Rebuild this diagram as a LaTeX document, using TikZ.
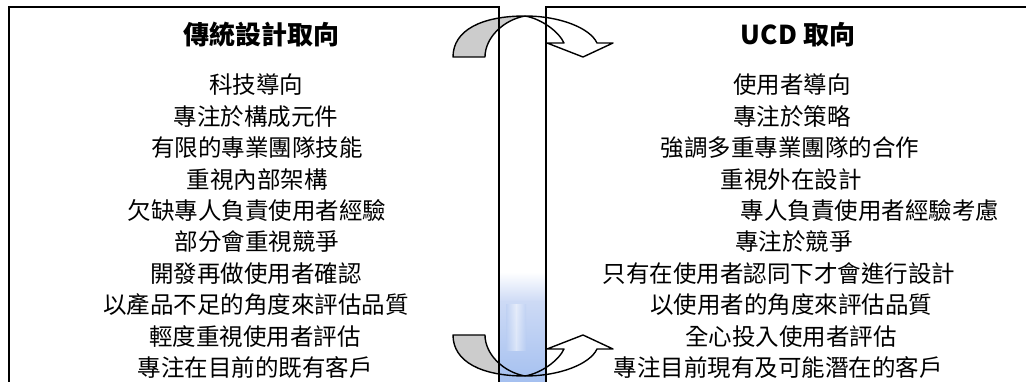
\documentclass[tikz,border=0pt]{standalone}
\usepackage{fontspec}
\newfontfamily\tc{Noto Sans CJK TC}
\begin{document}
\begin{tikzpicture}[x=1pt,y=-1pt,
  txt/.style={font=\tc\fontsize{23.5}{28}\selectfont, inner sep=0pt},
  ttl/.style={font=\tc\bfseries\fontsize{26}{30}\selectfont, inner sep=0pt},
  boxline/.style={line width=2pt, draw=black},
  arrline/.style={line width=1.4pt, draw=black, line join=round},
  grayfill/.style={fill={rgb,255:red,204;green,204;blue,204}}]
\useasboundingbox (0,0) rectangle (1026,382);
\clip (0,0) rectangle (1026,382);
% arrow shapes (top), defined as macros for reuse
\def\graypart{(453,57) .. controls (453,30) and (482,16) .. (525,16) .. controls (503,20) and (485,38) .. (485,57) -- cycle}
\def\whitepart{(525,16) .. controls (560,16) and (590,28) .. (597,43) -- (613,43) -- (583,57) -- (547,43) -- (564,43) .. controls (559,32) and (542,19) .. (525,16) -- cycle}
% fills
\fill[grayfill] \graypart;
\fill[white] \whitepart;
\begin{scope}[yshift=-392pt, yscale=-1]
\fill[grayfill] \graypart;
\fill[white] \whitepart;
\end{scope}
% middle strip picture
\shade[top color=white, bottom color={rgb,255:red,205;green,218;blue,245}] (500,272) rectangle (545,302);
\shade[top color={rgb,255:red,205;green,218;blue,245}, bottom color={rgb,255:red,165;green,192;blue,240}] (500,302) rectangle (545,382);
\shade[left color={rgb,255:red,185;green,205;blue,242}, right color=white, opacity=0.5] (506,305) rectangle (516,350);
\shade[left color=white, right color={rgb,255:red,185;green,205;blue,242}, opacity=0.5] (516,305) rectangle (526,350);
% outlines
\draw[arrline] \graypart;
\draw[arrline] \whitepart;
\begin{scope}[yshift=-392pt, yscale=-1]
\draw[arrline] \graypart;
\draw[arrline] \whitepart;
\end{scope}
% boxes
\draw[boxline] (9,400) -- (9,7) -- (499,7) -- (499,400);
\draw[boxline] (546,400) -- (546,7) -- (1040,7);
% left column
\node[ttl] (lt) at (261,35) {傳統設計取向};
\node[txt] (l1) at (256,85) {科技導向};
\node[txt] (l2) at (256,116.4) {專注於構成元件};
\node[txt] (l3) at (257,147.8) {有限的專業團隊技能};
\node[txt] (l4) at (257,179.2) {重視內部架構};
\node[txt] (l5) at (257,210.6) {欠缺專人負責使用者經驗};
\node[txt] (l6) at (257,242) {部分會重視競爭};
\node[txt] (l7) at (256,273.4) {開發再做使用者確認};
\node[txt] (l8) at (256,304.8) {以產品不足的角度來評估品質};
\node[txt] (l9) at (255,336.2) {輕度重視使用者評估};
\node[txt] (l10) at (255,367.6) {專注在目前的既有客戶};
% right column
\node[ttl] (rt) at (798,35) {UCD 取向};
\node[txt] (r1) at (792,85) {使用者導向};
\node[txt] (r2) at (792,116.4) {專注於策略};
\node[txt] (r3) at (790,147.8) {強調多重專業團隊的合作};
\node[txt] (r4) at (791,179.2) {重視外在設計};
\node[txt] (r5) at (870,210.6) {專人負責使用者經驗考慮};
\node[txt] (r6) at (794,242) {專注於競爭};
\node[txt] (r7) at (779,273.4) {只有在使用者認同下才會進行設計};
\node[txt] (r8) at (791,304.8) {以使用者的角度來評估品質};
\node[txt] (r9) at (791,336.2) {全心投入使用者評估};
\node[txt] (r10) at (778,367.6) {專注目前現有及可能潛在的客戶};
\end{tikzpicture}
\end{document}
